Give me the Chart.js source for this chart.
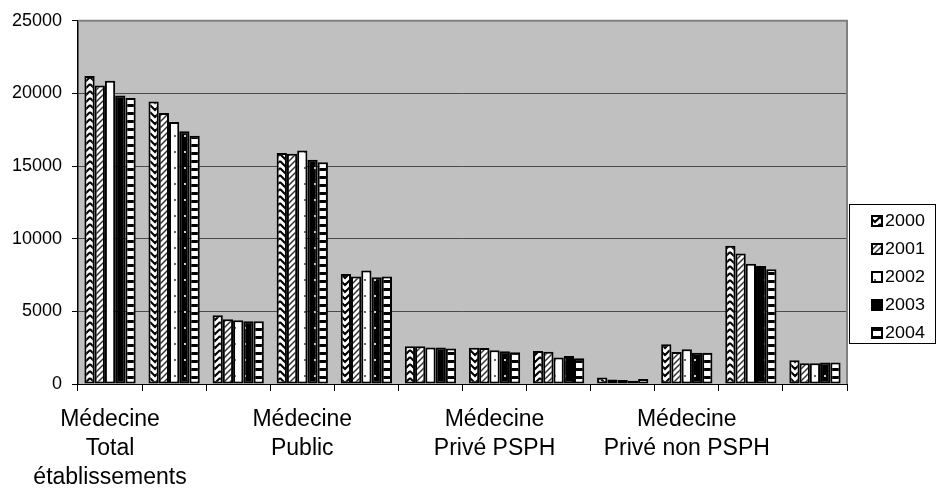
<!DOCTYPE html>
<html>
<head>
<meta charset="utf-8">
<script src="https://cdn.jsdelivr.net/npm/chart.js@4/dist/chart.umd.min.js"></script>
<style>
  body { margin: 0; background: #fff; }
</style>
</head>
<body>
<canvas id="barchart" width="936" height="488"></canvas>
<script>
// categories (only every third label is shown in the original)
var categories = [
  ["Médecine", "Total", "établissements"], "", "",
  ["Médecine", "Public"], "", "",
  ["Médecine", "Privé PSPH"], "", "",
  ["Médecine", "Privé non PSPH"], "", ""
];
var years = ["2000", "2001", "2002", "2003", "2004"];

var v2000 = [21200, 19450, 4730, 15900, 7580, 2600, 2490, 2280, 450, 2740, 9520, 1640];
var v2001 = [20550, 18650, 4450, 15850, 7400, 2600, 2470, 2220, 310, 2210, 8990, 1420];
var v2002 = [20870, 18040, 4380, 16070, 7810, 2510, 2330, 1830, 280, 2400, 8270, 1420];
var v2003 = [19860, 17400, 4320, 15430, 7350, 2510, 2260, 1920, 230, 2150, 8130, 1480];
var v2004 = [19680, 17080, 4320, 15270, 7400, 2440, 2190, 1780, 340, 2150, 7900, 1480];

var yTicks = [0, 5000, 10000, 15000, 20000, 25000];

var FONT = "'Liberation Sans', Arial, sans-serif";

// hatch patterns like the old excel fills
function makePattern(ctx, kind) {
  var c = document.createElement("canvas");
  var g = c.getContext("2d");
  if (kind == 0) {          // zigzag chevrons
    c.width = 10; c.height = 7;
    g.fillStyle = "#fff"; g.fillRect(0, 0, 10, 7);
    g.strokeStyle = "#000"; g.lineWidth = 2;
    g.beginPath();
    g.moveTo(0, 0); g.lineTo(5, 5); g.lineTo(10, 0);
    g.moveTo(0, 7); g.lineTo(2, 9);
    g.moveTo(10, 7); g.lineTo(8, 9);
    g.stroke();
  } else if (kind == 1) {   // light diagonal
    c.width = 6; c.height = 6;
    g.fillStyle = "#fff"; g.fillRect(0, 0, 6, 6);
    g.strokeStyle = "#333"; g.lineWidth = 1.5;
    g.beginPath();
    g.moveTo(0, 6); g.lineTo(6, 0);
    g.moveTo(-1, 1); g.lineTo(1, -1);
    g.moveTo(5, 7); g.lineTo(7, 5);
    g.stroke();
  } else if (kind == 2) {   // white, sparse dots
    c.width = 10; c.height = 16;
    g.fillStyle = "#fff"; g.fillRect(0, 0, 10, 16);
    g.fillStyle = "#666"; g.fillRect(4, 7, 2, 2);
  } else if (kind == 3) {   // black, sparse white dots
    c.width = 10; c.height = 16;
    g.fillStyle = "#000"; g.fillRect(0, 0, 10, 16);
    g.fillStyle = "#ccc"; g.fillRect(4, 7, 2, 2);
  } else {                  // horizontal stripes
    c.width = 4; c.height = 8;
    g.fillStyle = "#fff"; g.fillRect(0, 0, 4, 8);
    g.fillStyle = "#000"; g.fillRect(0, 0, 4, 3);
  }
  return ctx.createPattern(c, "repeat");
}

var ctx = document.getElementById("barchart").getContext("2d");
var fills = [0, 1, 2, 3, 4].map(function (k) { return makePattern(ctx, k); });
var series = [v2000, v2001, v2002, v2003, v2004];

var datasets = years.map(function (y, i) {
  return {
    label: y,
    data: series[i],
    backgroundColor: fills[i],
    borderColor: "#000",
    borderWidth: 2,
    borderSkipped: false,
    categoryPercentage: 0.8,
    barPercentage: 1.0
  };
});

// grey plot area + frame
var plotBackground = {
  id: "plotBackground",
  beforeDraw: function (chart) {
    var a = chart.chartArea, c = chart.ctx;
    c.save();
    c.fillStyle = "#c0c0c0";
    c.fillRect(a.left, a.top, a.right - a.left, a.bottom - a.top);
    c.restore();
  },
  afterDatasetsDraw: function (chart) {
    var a = chart.chartArea, c = chart.ctx;
    c.save();
    c.strokeStyle = "#808080";
    c.lineWidth = 2;
    c.beginPath();
    c.moveTo(a.left, a.top); c.lineTo(a.right, a.top); c.lineTo(a.right, a.bottom);
    c.stroke();
    c.restore();
  }
};

// boxed legend on the right, like excel
var boxLegend = {
  id: "boxLegend",
  afterDraw: function (chart) {
    var c = chart.ctx;
    c.save();
    c.fillStyle = "#fff";
    c.fillRect(849, 204, 86, 139);
    c.strokeStyle = "#000";
    c.lineWidth = 1;
    c.strokeRect(849.5, 204.5, 86, 139);
    c.textBaseline = "middle";
    years.forEach(function (y, i) {
      var cy = 221 + i * 28;
      c.fillStyle = fills[i];
      c.fillRect(872, cy - 5, 10, 10);
      c.strokeStyle = "#000";
      c.lineWidth = 2;
      c.strokeRect(872, cy - 5, 10, 10);
      // text a bit wider than normal, as in the picture
      c.save();
      c.translate(885, cy + 1);
      c.scale(1.12, 1);
      c.font = "16px " + FONT;
      c.fillStyle = "#000";
      c.fillText(y, 0, 0);
      c.restore();
    });
    c.restore();
  }
};

var myChart = new Chart(ctx, {
  type: "bar",
  data: {
    labels: categories,
    datasets: datasets
  },
  options: {
    responsive: false,
    animation: false,
    layout: { padding: { top: 20, right: 89, left: 0, bottom: 0 } },
    plugins: {
      legend: { display: false },
      tooltip: { enabled: false }
    },
    scales: {
      x: {
        grid: { offset: true, drawOnChartArea: false, tickLength: 7, color: "#000" },
        border: { color: "#000", width: 1 },
        ticks: {
          autoSkip: false,
          maxRotation: 0,
          padding: 14,
          color: "#000",
          font: { family: FONT, size: 23, lineHeight: 1.27 }
        },
        afterFit: function (scale) { scale.height = 104; }
      },
      y: {
        min: 0,
        max: 25000,
        afterBuildTicks: function (scale) {
          scale.ticks = yTicks.map(function (v) { return { value: v }; });
        },
        grid: { color: "#4a4a4a", lineWidth: 1, tickLength: 6, tickColor: "#000" },
        border: { color: "#000", width: 1.5 },
        ticks: {
          padding: 10,
          color: "#000",
          font: { family: FONT, size: 18 },
          callback: function (v) { return String(v); }
        },
        afterFit: function (scale) { scale.width = 78; }
      }
    }
  },
  plugins: [plotBackground, boxLegend]
});
</script>
</body>
</html>
